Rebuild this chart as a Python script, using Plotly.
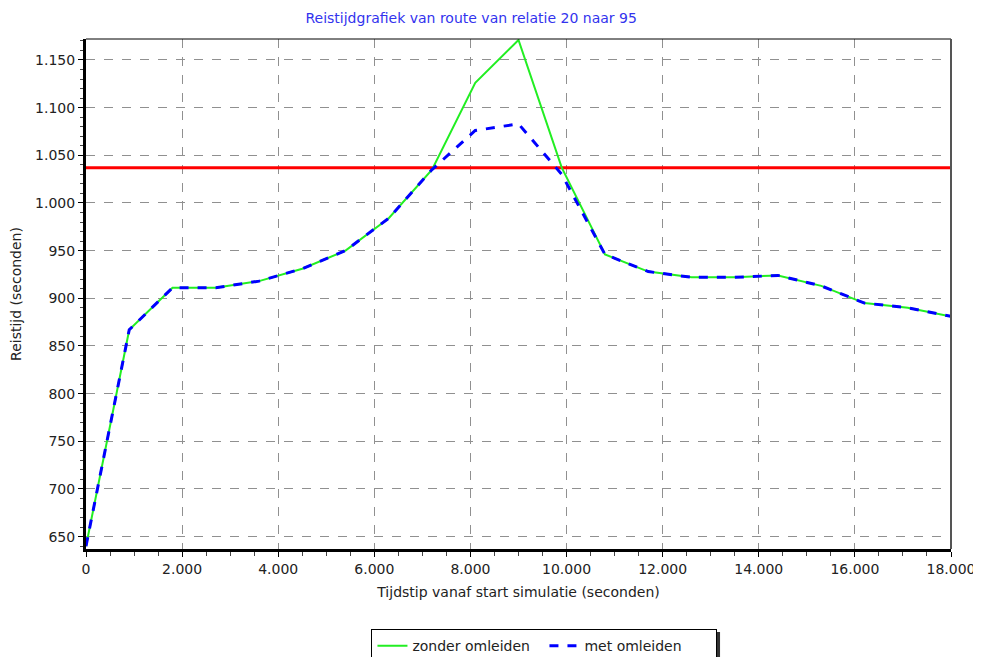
import plotly.graph_objects as go

# Data
tijd = [0, 900, 1800, 2700, 3600, 4500, 5400, 6300, 7200, 8100, 9000, 9900,
        10800, 11700, 12600, 13500, 14400, 15300, 16200, 17100, 18000]
zonder_omleiden = [640, 867, 911, 911, 918, 931, 950, 984, 1035, 1126, 1171, 1037,
                   946, 928, 922, 922, 924, 913, 895, 890, 881]
met_omleiden = [640, 867, 911, 911, 918, 931, 950, 984, 1035, 1076, 1083, 1030,
                946, 928, 922, 922, 924, 913, 895, 890, 881]
drempel = 1037

x_ticks = [0, 2000, 4000, 6000, 8000, 10000, 12000, 14000, 16000, 18000]
y_ticks = [650, 700, 750, 800, 850, 900, 950, 1000, 1050, 1100, 1150]

FONT = "DejaVu Sans"
FS = 14

fig = go.Figure()
fig.add_trace(go.Scatter(x=[tijd[0], tijd[-1]], y=[drempel, drempel], mode="lines",
                         line=dict(color="#ff0000", width=3), showlegend=False,
                         hoverinfo="skip"))
fig.add_trace(go.Scatter(x=tijd, y=zonder_omleiden, mode="lines", name="zonder omleiden",
                         line=dict(color="#22ee22", width=2)))
fig.add_trace(go.Scatter(x=tijd, y=met_omleiden, mode="lines", name="met omleiden",
                         line=dict(color="#0000ff", width=3, dash="dash")))

grid = dict(showgrid=True, gridcolor="#909090", griddash="dash", gridwidth=1)

# page body has an 8px margin, so the figure is sized/offset accordingly
fig.update_layout(
    width=973, height=649,
    margin=dict(l=78, r=30, t=31, b=108, autoexpand=False),
    paper_bgcolor="white", plot_bgcolor="white",
    separators=",.",
    font=dict(family=FONT, size=FS, color="#222222"),
    title=dict(text="Reistijdgrafiek van route van relatie 20 naar 95",
               x=0.476, xanchor="center", y=0.985, yanchor="middle",
               font=dict(family=FONT, size=FS, color="#3333ee")),
    xaxis=dict(range=[0, 18000], tickvals=x_ticks, tickformat=",d", automargin=False,
               showline=True, linecolor="black", linewidth=3,
               ticks="outside", ticklen=5, tickcolor="black", tickwidth=1,
               minor=dict(dtick=500, ticks="outside", ticklen=4, tickcolor="#444444", showgrid=False),
               title=dict(text="Tijdstip vanaf start simulatie (seconden)", standoff=12,
                          font=dict(size=FS)),
               zeroline=False, **grid),
    yaxis=dict(range=[637, 1172], tickvals=y_ticks, tickformat=",d", automargin=False,
               showline=True, linecolor="black", linewidth=3,
               ticks="outside", ticklen=5, tickcolor="black", tickwidth=1,
               minor=dict(dtick=10, ticks="outside", ticklen=3, tickcolor="#444444", showgrid=False),
               title=dict(text="Reistijd (seconden)", standoff=12, font=dict(size=FS)),
               zeroline=False, **grid),
    legend=dict(orientation="h", x=0.530, xanchor="center", y=-0.157, yanchor="top",
                bordercolor="black", borderwidth=1, bgcolor="white",
                font=dict(family=FONT, size=FS, color="#222222"),
                itemwidth=30, entrywidth=127, entrywidthmode="pixels"),
    shapes=[
        dict(type="line", xref="paper", yref="paper", x0=0, x1=1, y0=1, y1=1,
             line=dict(color="black", width=1)),
        dict(type="line", xref="paper", yref="paper", x0=1, x1=1, y0=0, y1=1,
             line=dict(color="#555555", width=2)),
        # legend drop shadow
        dict(type="rect", xref="paper", yref="paper", x0=0.3353, x1=0.733,
             y0=-0.1627, y1=-0.25, fillcolor="#333333", line=dict(width=0), layer="above"),
    ],
)

fig.write_html("out.html")
